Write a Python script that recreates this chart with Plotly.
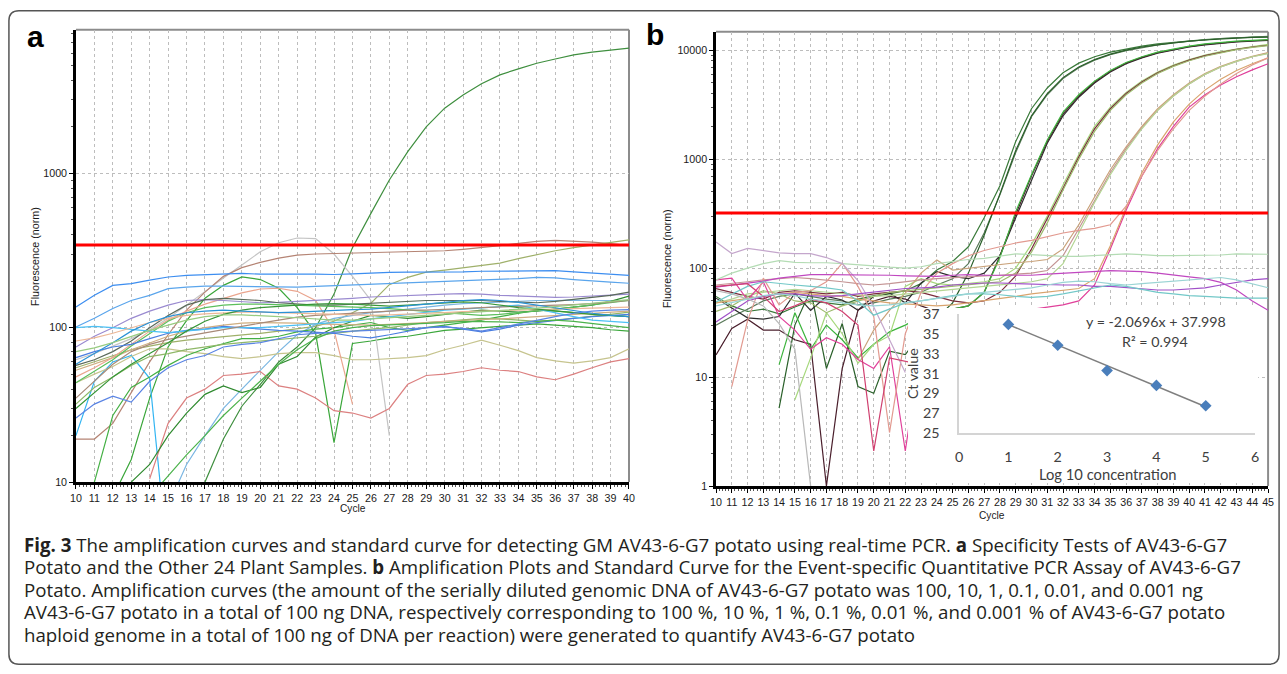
import plotly.graph_objects as go

W, H = 1287, 674

# ---------------- panel a : specificity test (cycles 10-40) ----------------
cycles_a = list(range(10, 41))
threshold_a = 343
a_yticks = [10, 100, 1000]

a_curves = [
    [None, None, None, None, None, None, 6, 10, 19, 31, 43, 60, 75, 100, 165, 330,
     550, 905, 1380, 2000, 2640, 3210, 3800, 4340, 4750, 5160, 5500, 5850, 6100, 6300, 6460],
    [None, None, 8, 14, 35, 75, 111, 155, 188, 213, 205, 180, 135, 92, 18, 79,
     82, 86, 88, 92, 96, 98, 100, 102, 104, 106, 104, 102, 100, 97, 95],
    [62, 68, 76, 85, 97, 115, 140, 172, 210, 255, 310, 355, 381, 378, 300, 215,
     150, 20, None, None, None, None, None, None, None, None, None, None, None, None, None],
    [19, 19, 24, 38, 60, 90, 130, 170, 215, 245, 265, 282, 295, 300, 302, 303,
     305, 307, 308, 310, 315, 322, 330, 340, 352, 362, 368, 365, 358, 350, 340],
    [55, 60, 66, 72, 76, 80, 83, 85, 87, 90, 92, 95, 98, 102, 110, 125,
     144, 190, 212, 229, 236, 245, 254, 262, 280, 298, 315, 330, 342, 355, 371],
    [136, 162, 188, 193, 203, 213, 218, 221, 224, 225, 222, 221, 222, 222, 221, 223,
     226, 228, 229, 229, 229, 230, 232, 233, 232, 235, 234, 230, 226, 223, 218],
    [101, 115, 133, 150, 162, 179, 183, 186, 186, 185, 183, 182, 183, 185, 187, 188,
     190, 192, 194, 196, 198, 200, 203, 205, 208, 212, 210, 205, 200, 197, 194],
    [20, 45, 60, 66, 47, 3, None, None, None, None, None, None, None, None, None, None,
     None, None, None, None, None, None, None, None, None, None, None, None, None, None, None],
    [None, None, None, None, None, 7, 13, 20, 30, 40, 53, 70, 90, 105, 115, 120,
     125, 128, 132, 136, 140, 143, 145, 147, 148, 150, 150, 151, 150, 150, 150],
    [None, None, None, None, 10.5, 24, 35, 40, 49, 50, 52, 42, 40, 35, 29, 28,
     26, 30, 43, 49, 50, 52, 55, 53, 52, 48, 46, 50, 55, 60, 63],
    [44, 50, 56, 65, 73, 73, 70, 68, 65, 63, 65, 68, 69, 69, 66, 62,
     62, 63, 64, 66, 72, 77, 83, 77, 71, 64, 61, 59, 61, 64, 73],
    [None, 10, 27, 41, 48, 57, 66, 73, 79, 85, 85, 88, 94, 98, 100, 104,
     108, 100, 96, 100, 104, 108, 112, 118, 124, 130, 128, 125, 122, 120, 118],
    [None, None, None, 10, 13, 20, 28, 37, 42, 38, 41, 58, 65, 87, 100, 110,
     120, 118, 115, 118, 122, 126, 130, 128, 126, 128, 132, 135, 140, 148, 160],
    [32, 41, 48, 57, 65, 68, 72, 75, 78, 80, 82, 84, 86, 88, 92, 95,
     98, 100, 104, 108, 110, 113, 115, 114, 112, 110, 112, 115, 118, 122, 126],
    [53, 58, 64, 72, 80, 88, 95, 100, 104, 107, 108, 108, 107, 106, 105, 104,
     104, 105, 106, 108, 110, 112, 113, 114, 116, 118, 120, 122, 124, 126, 128],
    [48, 55, 64, 78, 95, 112, 128, 142, 155, 168, 178, 180, 172, 150, 96, 32,
     None, None, None, None, None, None, None, None, None, None, None, None, None, None, None],
    [75, 88, 100, 115, 128, 140, 150, 152, 150, 148, 145, 146, 148, 150, 152, 155,
     158, 160, 162, 164, 165, 166, 165, 162, 160, 158, 157, 158, 160, 162, 165],
    [57, 62, 70, 82, 100, 120, 140, 152, 155, 153, 150, 145, 142, 140, 140, 142,
     145, 147, 148, 150, 150, 150, 150, 148, 146, 145, 148, 152, 156, 162, 170],
    [44, 52, 62, 76, 92, 110, 125, 135, 140, 142, 142, 141, 140, 139, 138, 137,
     135, 133, 130, 128, 125, 122, 120, 122, 125, 128, 132, 136, 140, 145, 150],
    [64, 70, 75, 78, 85, 92, 96, 98, 102, 100, 97, 96, 95, 94, 92, 88,
     86, 90, 95, 100, 102, 98, 94, 98, 104, 108, 112, 115, 118, 120, 122],
    [100, 102, 100, 97, 95, 93, 95, 98, 100, 100, 100, 102, 104, 106, 108, 110,
     114, 118, 122, 126, 130, 132, 134, 137, 140, 132, 125, 118, 112, 110, 108],
    [35, 45, 58, 70, 78, 84, 88, 92, 97, 102, 107, 112, 117, 120, 122, 124,
     126, 128, 130, 130, 131, 133, 135, 136, 137, 138, 139, 141, 143, 146, 150],
    [82, 86, 92, 100, 108, 115, 120, 123, 125, 126, 126, 125, 124, 123, 122, 121,
     120, 121, 122, 123, 125, 127, 128, 129, 130, 131, 132, 133, 134, 135, 136],
    [30, 38, 48, 58, 68, 80, 95, 110, 122, 130, 135, 138, 140, 142, 143, 142,
     140, 138, 140, 142, 145, 147, 145, 140, 135, 132, 128, 125, 122, 120, 118],
    [58, 68, 80, 95, 108, 118, 125, 128, 130, 128, 126, 125, 126, 128, 130, 131,
     132, 135, 138, 142, 146, 150, 152, 150, 146, 140, 134, 128, 124, 120, 118],
    [70, 74, 80, 88, 96, 104, 112, 118, 121, 121, 120, 118, 116, 114, 112, 112,
     114, 116, 118, 120, 122, 124, 126, 128, 131, 134, 137, 140, 144, 148, 152],
    [None, None, None, None, 8, 11, 15, 20, 27, 35, 45, 58, 72, 85, 95, 100,
     103, 104, 105, 106, 108, 110, 110, 109, 108, 110, 112, 110, 106, 103, 100],
    [26, 32, 36, 33, 45, 55, 62, 66, 75, 78, 80, 85, 90, 92, 94, 95,
     96, 97, 98, 100, 101, 99, 95, 100, 106, 112, 118, 124, 128, 130, 131],
]
a_colors = ["#3f8f3f", "#3aa63a", "#c4c4c4", "#b58474", "#9fb06a", "#3d8ef0", "#5aa5ec",
            "#33b5f2", "#7ab6e2", "#dc8080", "#c6c48e", "#44b044", "#2f8a2f", "#8fb868",
            "#cfae80", "#eaa58e", "#9a8ad0", "#5a6a5a", "#5cbf5c", "#4a7ee0", "#4cc0f4",
            "#a88a78", "#ecb898", "#379637", "#2a92d6", "#98cc80", "#4cb34c", "#5a84e4"]

# ---------------- panel b : dilution series (cycles 10-45) ----------------
cycles_b = list(range(10, 46))
threshold_b = 320
b_yticks = [1, 10, 100, 1000, 10000]

b_curves = [
    [55, 45, 40, 42, 38, 44, 50, 48, 46, 52, 56, 58, 62, 72, 96, 115, 157, 290,
     570, 1450, 2900, 4500, 6200, 7600, 8700, 9600, 10300, 10900, 11400, 11800, 12200, 12500, 12800, 13000, 13200, 13300],
    [30, 36, 42, 50, 55, 58, 55, 52, 50, 46, 48, 52, 55, 60, 70, 80, 110, 210,
     470, 1150, 2450, 3900, 5500, 6900, 8100, 9100, 9900, 10600, 11200, 11700, 12100, 12500, 12800, 13000, 13200, 13400],
    [None, None, None, None, 5.2, 30, 63, 12, 31, 8.2, 7.1, 17.3, 16.1, 25, 35, 48, 90, 200,
     480, 1200, 2500, 4000, 5600, 7000, 8200, 9200, 10000, 10700, 11200, 11700, 12100, 12400, 12700, 12900, 13100, 13200],
    [53, 43, 35, 34, 36, 59, 41, 55, 51, 41, 55, 59, 48, 73, 93, 84, 80, 90,
     130, 290, 650, 1400, 2500, 3700, 5000, 6300, 7500, 8500, 9400, 10100, 10700, 11200, 11600, 11900, 12100, 12300],
    [16, 28, 34, 27, 27, 22, 20, 1.0, 12, 41, 50, 55, 52, 45, 40, 42, 45, 60,
     130, 310, 700, 1450, 2600, 3800, 5100, 6400, 7600, 8600, 9500, 10200, 10800, 11300, 11700, 12000, 12200, 12400],
    [None, None, None, None, 13, 39, 18, 30, 22, 15, 20, 26, 30, 36, 40, 42, 45, 60,
     125, 330, 720, 1500, 2700, 3900, 5200, 6500, 7700, 8700, 9600, 10300, 10900, 11400, 11800, 12100, 12300, 12500],
    [None, None, None, None, None, 6.2, 15, 39, 25, 13.4, 20, 24, 68, 80, 72, 70, 72, 75,
     80, 100, 165, 300, 580, 1100, 2000, 3000, 4100, 5200, 6300, 7300, 8200, 9000, 9700, 10300, 10800, 11300],
    [65, 60, 55, 52, 60, 62, 60, 58, 60, 55, 58, 60, 62, 60, 55, 50, 48, 50,
     60, 85, 150, 280, 540, 1050, 1900, 2900, 4000, 5100, 6200, 7200, 8100, 8900, 9600, 10200, 10700, 11100],
    [40, 45, 55, 62, 58, 50, 48, 39, 45, 50, 55, 60, 62, 64, 66, 68, 70, 72,
     75, 90, 140, 260, 520, 1000, 1800, 2800, 3900, 5000, 6100, 7100, 8000, 8800, 9500, 10100, 10600, 11000],
    [70, 72, 75, 78, 80, 82, 80, 78, 75, 72, 70, 72, 75, 78, 80, 82, 84, 85,
     86, 88, 90, 95, 130, 230, 420, 750, 1250, 1950, 2800, 3800, 4900, 6000, 7000, 7900, 8700, 9400],
    [None, None, None, None, None, None, None, None, None, 14.5, 27, 41, 59, 90, 119, 96, 100, 104,
     108, 112, 115, 120, 150, 250, 450, 800, 1300, 2000, 2900, 3900, 5000, 6100, 7100, 8000, 8800, 9500],
    [48, 52, 58, 60, 62, 64, 62, 60, 58, 56, 55, 56, 58, 60, 62, 64, 66, 68,
     70, 72, 75, 80, 110, 210, 400, 720, 1200, 1900, 2800, 3800, 4900, 6000, 7000, 7900, 8700, 9300],
    [78, 81, 51, 75, 36, 27, 18, 23, 20, 14.5, 12, 19, 2.1, 20, 25, 30, 33, 35,
     38, 40, 42, 44, 46, 50, 70, 150, 340, 700, 1250, 2000, 3000, 3900, 4800, 5700, 6600, 7500],
    [48, 50, 52, 55, 58, 60, 58, 56, 55, 52, 50, 48, 47, 46, 45, 46, 48, 50,
     52, 55, 58, 60, 62, 65, 80, 160, 360, 750, 1350, 2200, 3200, 4300, 5400, 6500, 7500, 8500],
    [None, 8.2, 33, 81, 46, 60, 62, 75, 111, 68, 36, 3.1, 25, 60, 90, 110, 130, 145,
     157, 170, 180, 195, 210, 222, 232, 250, 370, 700, 1200, 1900, 2800, 3800, 4900, 6100, 7300, 8500],
    [78, 90, 100, 110, 117, 113, 112, 112, 110, 108, 105, 102, 100, 103, 110, 115, 120, 123,
     128, 135, 133, 130, 128, 128, 130, 132, 135, 133, 130, 130, 130, 130, 132, 135, 135, 134],
    [174, 136, 152, 145, 138, 136, 136, 125, 110, 77, 44, 22, 11, None, None, None, None, None,
     None, None, None, None, None, None, None, None, None, None, None, None, None, None, None, None, None, None],
    [67, 70, 72, 76, 81, 84, 87, 87, 87, 87, 87, 86, 85, 84, 84, 86, 87, 86,
     86, 86, 86, 88, 90, 92, 94, 95, 94, 93, 90, 86, 83, 80, 74, 63, 50, 41],
    [32, 40, 50, 55, 58, 58, 56, 55, 56, 58, 60, 62, 65, 66, 67, 70, 72, 73,
     73, 72, 71, 71, 70, 70, 68, 68, 66, 64, 63, 63, 64, 66, 70, 74, 78, 80],
    [49, 58, 68, 75, 73, 70, 68, 66, 63, 50, 37, 42, 48, 50, 53, 56, 58, 58,
     57, 55, 54, 55, 58, 62, 66, 70, 68, 64, 60, 58, 56, 55, 54, 53, 53, 53],
    [68, 70, 72, 55, 40, 45, 52, 48, 40, 30, 2.1, 15, 14, 13, None, None, None, None,
     None, None, None, None, None, None, None, None, None, None, None, None, None, None, None, None, None, None],
    [62, 58, 52, 45, 31, 18, 1.0, None, None, None, None, None, None, None, None, None, None, None,
     None, None, None, None, None, None, None, None, None, None, None, None, None, None, None, None, None, None],
    [45, 48, 52, 56, 58, 56, 52, 50, 48, 46, 45, 46, 48, 50, 52, 55, 58, 60,
     62, 64, 66, 70, 74, 76, 75, 72, 70, 72, 74, 76, 78, 80, 82, 78, 72, 66],
]
b_colors = ["#3a7a3a", "#5b7b5b", "#2a602a", "#2e2e2e", "#4a1f2c", "#3cb43c", "#a6d87c",
            "#7a2c3c", "#9cba6c", "#c49494", "#c9a27a", "#b4d694", "#e0409a", "#d9a46e",
            "#e29a90", "#b4dcb4", "#c4a6cc", "#c048c0", "#a050c8", "#72c8c8", "#d04070",
            "#b8b8b8", "#9ad4d4"]

# ---------------- inset : standard curve ----------------
log_conc = [1, 2, 3, 4, 5]
ct_values = [35.95, 33.85, 31.3, 29.8, 27.75]
fit_slope, fit_intercept, fit_r2 = -2.0696, 37.998, 0.994
inset_xticks = [0, 1, 2, 3, 4, 5, 6]
inset_yticks = [25, 27, 29, 31, 33, 35, 37]

caption_lines = [
    "<b>Fig. 3</b> The amplification curves and standard curve for detecting GM AV43-6-G7 potato using real-time PCR. <b>a</b> Specificity Tests of AV43-6-G7",
    "Potato and the Other 24 Plant Samples. <b>b</b> Amplification Plots and Standard Curve for the Event-specific Quantitative PCR Assay of AV43-6-G7",
    "Potato. Amplification curves (the amount of the serially diluted genomic DNA of AV43-6-G7 potato was 100, 10, 1, 0.1, 0.01, and 0.001 ng",
    "AV43-6-G7 potato in a total of 100 ng DNA, respectively corresponding to 100 %, 10 %, 1 %, 0.1 %, 0.01 %, and 0.001 % of AV43-6-G7 potato",
    "haploid genome in a total of 100 ng of DNA per reaction) were generated to quantify AV43-6-G7 potato",
]

# the captured picture comes out slightly padded and shrunk, so target
# positions (in picture pixels) are mapped back to page pixels here
SX, OX = 0.99055, 6.08
SY, OY = 0.9743, 9.15
FS = 1 / 0.982


def xp(v):
    return ((v - OX) / SX) / W


def yp(v):
    return 1 - ((v - OY) / SY) / H


fig = go.Figure()

for vals, col in zip(a_curves, a_colors):
    fig.add_trace(go.Scatter(x=cycles_a, y=vals, mode="lines", line=dict(color=col, width=1.2),
                             xaxis="x", yaxis="y", hoverinfo="skip", showlegend=False))
fig.add_trace(go.Scatter(x=[cycles_a[0], cycles_a[-1]], y=[threshold_a, threshold_a], mode="lines",
                         line=dict(color="#ff0000", width=3), xaxis="x", yaxis="y",
                         hoverinfo="skip", showlegend=False))

for vals, col in zip(b_curves, b_colors):
    fig.add_trace(go.Scatter(x=cycles_b, y=vals, mode="lines", line=dict(color=col, width=1.2),
                             xaxis="x2", yaxis="y2", hoverinfo="skip", showlegend=False))
fig.add_trace(go.Scatter(x=[cycles_b[0], cycles_b[-1]], y=[threshold_b, threshold_b], mode="lines",
                         line=dict(color="#ff0000", width=3), xaxis="x2", yaxis="y2",
                         hoverinfo="skip", showlegend=False))

# white panel behind the inset (its own subplot so its background hides panel b)
fig.add_trace(go.Scatter(x=[None], y=[None], xaxis="x3", yaxis="y3", showlegend=False))

fit_x = [log_conc[0], log_conc[-1]]
fit_y = [fit_slope * v + fit_intercept for v in fit_x]
fig.add_trace(go.Scatter(x=fit_x, y=fit_y, mode="lines", line=dict(color="#7f7f7f", width=1.5),
                         xaxis="x4", yaxis="y4", hoverinfo="skip", showlegend=False))
fig.add_trace(go.Scatter(x=log_conc, y=ct_values, mode="markers",
                         marker=dict(symbol="diamond", size=9, color="#4a7ebb"),
                         xaxis="x4", yaxis="y4", hoverinfo="skip", showlegend=False))

tick_font = dict(family="Liberation Sans, Arial, sans-serif", size=10.5 * FS, color="#1a1a1a")
grid = dict(showgrid=True, gridcolor="#bdbdbd", griddash="dot", gridwidth=1)
minor_log = [k * 10 ** e for e in range(0, 4) for k in range(2, 10)]


def cycle_axis(dom, rng, anchor):
    return dict(domain=dom, range=rng, anchor=anchor, tickmode="linear", tick0=10, dtick=1,
                ticks="outside", ticklen=4, tickcolor="#000", tickfont=tick_font,
                showline=True, linecolor="#000", linewidth=2.5, zeroline=False,
                minor=dict(dtick=0.2, ticks="outside", ticklen=2, tickcolor="#555", showgrid=False),
                **grid)


def fluor_axis(dom, rng, anchor, tv):
    return dict(domain=dom, type="log", range=rng, anchor=anchor, tickmode="array",
                tickvals=tv, ticktext=[str(v) for v in tv],
                ticks="outside", ticklen=4, tickcolor="#000", tickfont=tick_font,
                showline=True, linecolor="#000", linewidth=2.5, zeroline=False,
                minor=dict(tickmode="array", tickvals=minor_log, ticks="outside", ticklen=2,
                           tickcolor="#555", showgrid=False),
                **grid)


inset_font = dict(family="Lato, sans-serif", size=14 * FS, color="#404040")

fig.update_layout(
    width=W, height=H, autosize=False,
    margin=dict(l=0, r=0, t=0, b=0),
    paper_bgcolor="white", plot_bgcolor="white",
    xaxis=cycle_axis([xp(76), xp(629)], [10, 40], "y"),
    yaxis=fluor_axis([yp(482), yp(30)], [1, 3.929], "x", a_yticks),
    xaxis2=cycle_axis([xp(716), xp(1268)], [10, 45], "y2"),
    yaxis2=fluor_axis([yp(486), yp(32)], [0, 4.168], "x2", b_yticks),
    xaxis3=dict(domain=[xp(908), xp(1258)], range=[0, 1], anchor="y3", showgrid=False,
                zeroline=False, showline=False, showticklabels=False, ticks=""),
    yaxis3=dict(domain=[yp(483), yp(308)], range=[0, 1], anchor="x3", showgrid=False,
                zeroline=False, showline=False, showticklabels=False, ticks=""),
    xaxis4=dict(domain=[xp(959), xp(1255)], range=[0, 6], anchor="y4", showgrid=False,
                zeroline=False, showline=True, linecolor="#d4d4d4", linewidth=1.5,
                tickmode="array", tickvals=inset_xticks, ticks="", ticklabelstandoff=10,
                tickfont=inset_font),
    yaxis4=dict(domain=[yp(433), yp(314)], range=[25, 37], anchor="x4", showgrid=False,
                zeroline=False, showline=True, linecolor="#d4d4d4", linewidth=1.5,
                tickmode="array", tickvals=inset_yticks, ticks="", ticklabelstandoff=15,
                tickfont=inset_font),
)

shapes = []
# grey top/right frame of both panels
for (l, t, r, b) in [(76, 30, 629, 482), (716, 32, 1268, 486)]:
    shapes.append(dict(type="line", xref="paper", yref="paper", x0=xp(l), x1=xp(r), y0=yp(t), y1=yp(t),
                       line=dict(color="#8c8c8c", width=2), layer="below"))
    shapes.append(dict(type="line", xref="paper", yref="paper", x0=xp(r), x1=xp(r), y0=yp(t), y1=yp(b),
                       line=dict(color="#8c8c8c", width=2), layer="below"))

# rounded outer frame
x0, x1, y0, y1, rr = 9, 1279, 11, 664, 10
path = (f"M {xp(x0 + rr)},{yp(y0)} L {xp(x1 - rr)},{yp(y0)} Q {xp(x1)},{yp(y0)} {xp(x1)},{yp(y0 + rr)} "
        f"L {xp(x1)},{yp(y1 - rr)} Q {xp(x1)},{yp(y1)} {xp(x1 - rr)},{yp(y1)} "
        f"L {xp(x0 + rr)},{yp(y1)} Q {xp(x0)},{yp(y1)} {xp(x0)},{yp(y1 - rr)} "
        f"L {xp(x0)},{yp(y0 + rr)} Q {xp(x0)},{yp(y0)} {xp(x0 + rr)},{yp(y0)} Z")
shapes.append(dict(type="path", xref="paper", yref="paper", path=path,
                   line=dict(color="#555555", width=1.5), layer="above"))
fig.update_layout(shapes=shapes)

ann = []


def note(text, x, y, size, family="Liberation Sans, Arial, sans-serif", color="#1a1a1a",
         angle=0, xanchor="center", bold=False):
    if bold:
        text = f"<b>{text}</b>"
    ann.append(dict(text=text, x=xp(x), y=yp(y), xref="paper", yref="paper", showarrow=False,
                    xanchor=xanchor, yanchor="middle", textangle=angle,
                    font=dict(family=family, size=size, color=color)))


note("a", 35.5, 36.5, 30, bold=True, color="#000")
note("b", 655, 35, 30, bold=True, color="#000")
note("Fluorescence (norm)", 35, 256, 10.5 * FS, angle=-90)
note("Fluorescence (norm)", 667, 259, 10.5 * FS, angle=-90)
note("Cycle", 353, 508, 10 * FS)
note("Cycle", 992, 515, 10 * FS)
note("Ct value", 912, 374, 14 * FS, family="Lato, sans-serif", color="#404040", angle=-90)
note("Log 10 concentration", 1107, 474, 14.5 * FS, family="Lato, sans-serif", color="#404040")
note(f"y = {fit_slope}x + {fit_intercept}", 1156, 321, 14 * FS, family="Lato, sans-serif", color="#404040")
note(f"R² = {fit_r2}", 1155, 341, 14 * FS, family="Lato, sans-serif", color="#404040")

for i, line in enumerate(caption_lines):
    note(line, 22, 544 + 22.5 * i, 18.7, family="Open Sans, sans-serif", color="#231f20", xanchor="left")

fig.update_layout(annotations=ann)

fig.write_html("out.html", config={"displayModeBar": False},
               post_script="document.body.style.margin='0';document.body.style.overflow='hidden';")
